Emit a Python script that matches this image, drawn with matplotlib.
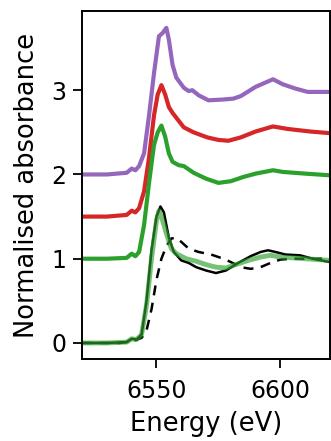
import numpy as np
import matplotlib
matplotlib.use('Agg')
import matplotlib.pyplot as plt

# energies (eV) and normalised absorbance
e_purple = [6520, 6530, 6538, 6540, 6541.5, 6543, 6545, 6547, 6549, 6551, 6552.5, 6554, 6555, 6556.5, 6558,
            6561, 6563, 6564.5, 6567, 6571, 6577, 6581, 6584, 6590, 6597, 6601, 6606, 6611, 6620]
a_purple = [2.0, 2.0, 2.02, 2.07, 2.05, 2.1, 2.25, 2.7, 3.2, 3.64, 3.68, 3.74, 3.6, 3.3, 3.15,
            3.03, 2.99, 3.0, 2.94, 2.88, 2.89, 2.9, 2.93, 3.04, 3.13, 3.07, 3.02, 2.98, 2.98]

e_red = [6520, 6530, 6538, 6540, 6541.5, 6543, 6545, 6547, 6549, 6550.5, 6552, 6553.5, 6555, 6556.5,
         6561, 6565, 6570.5, 6575, 6579, 6584, 6590, 6597, 6603, 6612, 6620]
a_red = [1.5, 1.5, 1.52, 1.57, 1.55, 1.6, 1.8, 2.2, 2.7, 2.95, 3.06, 2.95, 2.8, 2.73,
         2.56, 2.5, 2.44, 2.41, 2.4, 2.44, 2.51, 2.57, 2.54, 2.51, 2.49]

e_green = [6520, 6530, 6538, 6540, 6541.5, 6543, 6545, 6547, 6549, 6550.5, 6552, 6553.5, 6555, 6556.5,
           6559, 6561, 6565, 6570, 6575, 6580, 6585, 6590, 6597, 6601, 6610, 6620]
a_green = [1.0, 1.0, 1.01, 1.06, 1.03, 1.08, 1.4, 1.9, 2.35, 2.5, 2.58, 2.45, 2.25, 2.15,
           2.11, 2.1, 2.02, 1.95, 1.9, 1.92, 1.97, 2.01, 2.05, 2.03, 2.01, 1.99]

e_light = [6520, 6530, 6538, 6540, 6542, 6544, 6546, 6548, 6550, 6551, 6552, 6554, 6556, 6558,
           6562, 6566, 6570, 6574, 6578, 6582, 6587, 6592, 6596, 6600, 6605, 6610, 6615, 6620]
a_light = [0.0, 0.0, 0.01, 0.05, 0.04, 0.1, 0.45, 1.0, 1.45, 1.57, 1.5, 1.3, 1.12, 1.06,
           1.0, 0.97, 0.93, 0.9, 0.89, 0.93, 0.98, 1.02, 1.04, 1.02, 1.01, 1.0, 0.99, 0.98]

e_black = [6520, 6530, 6538, 6540, 6542, 6544, 6546, 6548, 6550, 6551.6, 6553, 6555, 6557, 6560,
           6563, 6566, 6570, 6574, 6578, 6583, 6588, 6592, 6595, 6598, 6602, 6608, 6613, 6620]
a_black = [0.0, 0.0, 0.01, 0.05, 0.04, 0.1, 0.5, 1.1, 1.5, 1.62, 1.55, 1.25, 1.08, 0.98,
           0.95, 0.9, 0.86, 0.83, 0.86, 0.95, 1.03, 1.08, 1.1, 1.08, 1.05, 1.04, 1.0, 0.96]

e_dash = [6520, 6535, 6540, 6544, 6546, 6548, 6550, 6552, 6554, 6556, 6558, 6560, 6563, 6567,
          6572, 6577, 6580, 6584, 6588, 6592, 6596, 6600, 6605, 6610, 6620]
a_dash = [0.0, 0.0, 0.02, 0.06, 0.15, 0.4, 0.75, 1.0, 1.15, 1.24, 1.25, 1.2, 1.12, 1.08,
          1.05, 1.0, 0.96, 0.9, 0.88, 0.9, 0.95, 0.99, 1.0, 1.0, 1.0]

fig = plt.figure(figsize=(3.31, 4.41), dpi=100)
ax = fig.add_axes([0.248, 0.186, 0.749, 0.789])

ax.plot(e_purple, a_purple, color='#9467bd', lw=3)
ax.plot(e_red, a_red, color='#d62728', lw=3)
ax.plot(e_green, a_green, color='#2ca02c', lw=3)
ax.plot(e_black, a_black, color='black', lw=1.8)
ax.plot(e_dash, a_dash, color='black', lw=1.8, linestyle=(0, (4, 3)))
ax.plot(e_light, a_light, color='#2ca02c', lw=3.5, alpha=0.65)

ax.set_xlim(6520, 6620)
ax.set_ylim(-0.19, 3.94)
ax.set_xticks([6550, 6600])
ax.set_yticks([0, 1, 2, 3])
ax.tick_params(labelsize=17, length=6.5, width=1.3, pad=5)
ax.tick_params(axis='x', pad=8)
for s in ax.spines.values():
    s.set_linewidth(1.4)
ax.set_xlabel('Energy (eV)', fontsize=18.5, labelpad=6)
ax.set_ylabel('Normalised absorbance', fontsize=18.5, labelpad=8)

fig.savefig('out.png', dpi=100)
